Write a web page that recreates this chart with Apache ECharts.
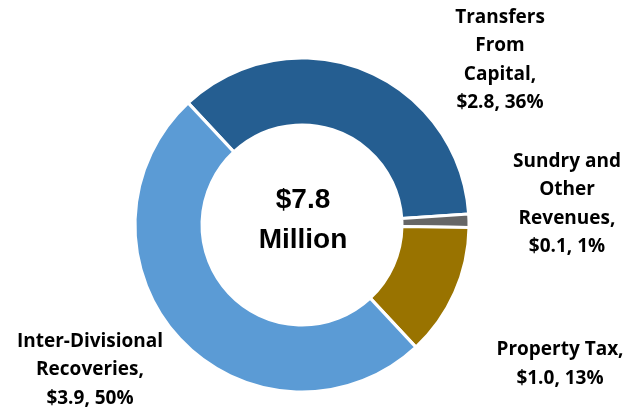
<!DOCTYPE html>
<html>
<head>
<meta charset="utf-8">
<script src="https://cdn.jsdelivr.net/npm/echarts@6/dist/echarts.min.js"></script>
<style>html,body{margin:0;padding:0;background:#fff}#c{width:641px;height:412px}</style>
</head>
<body>
<div id="c"></div>
<script>
const categories = ['Transfers\nFrom\nCapital', 'Sundry and\nOther\nRevenues', 'Property Tax', 'Inter-Divisional\nRecoveries'];
const values = [2.8, 0.1, 1.0, 3.9];
const percents = [36, 1, 13, 50];
const totalLabel = ['$7.8', 'Million'];

const colors = ['#255E91', '#666666', '#997300', '#5B9BD5'];
const labelPos = [[500, 60], [567, 204], [560, 364], [90, 370]];

const chart = echarts.init(document.getElementById('c'), null, {renderer: 'canvas'});
chart.setOption({
  animation: false,
  color: colors,
  graphic: [{
    type: 'text', x: 303, y: 220, silent: true,
    style: {
      text: totalLabel.join('\n'), align: 'center', verticalAlign: 'middle',
      font: 'bold 28px "Liberation Sans", Arial, sans-serif', lineHeight: 40, fill: '#000'
    }
  }],
  series: [{
    type: 'pie',
    center: [302, 225],
    radius: [100, 167],
    startAngle: 133,
    clockwise: true,
    itemStyle: {borderColor: '#fff', borderWidth: 3},
    label: {
      show: true,
      position: 'outside',
      overflow: 'none',
      align: 'center',
      verticalAlign: 'middle',
      color: '#000',
      fontFamily: '"Open Sans"',
      fontWeight: 'bold',
      fontSize: 19,
      lineHeight: 28.5,
      formatter: p => p.name + ',\n$' + values[p.dataIndex].toFixed(1) + ', ' + percents[p.dataIndex] + '%'
    },
    labelLine: {show: false},
    labelLayout: p => ({x: labelPos[p.dataIndex][0], y: labelPos[p.dataIndex][1], align: 'center', verticalAlign: 'middle', width: 220}),
    data: categories.map((c, i) => ({name: c, value: values[i]}))
  }]
});
</script>
</body>
</html>
